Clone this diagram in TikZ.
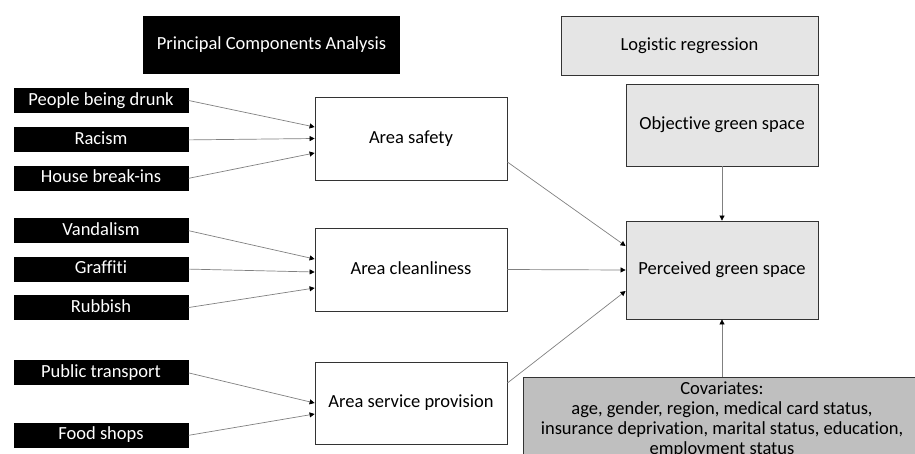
\documentclass[tikz,border=0pt]{standalone}
\usepackage{fontspec}
\setmainfont[Ligatures=NoCommon]{Carlito}
\usetikzlibrary{arrows.meta,positioning}

\begin{document}
\begin{tikzpicture}[x=1pt,y=-1pt,
  font=\fontsize{18.5}{20}\selectfont,
  item/.style={fill=black,text=white,minimum width=175pt,minimum height=25pt,
    text height=12.5pt,text depth=3.5pt,inner sep=0pt},
  factor/.style={draw=black!80,line width=0.8pt,fill=white,minimum width=192pt,
    minimum height=83pt,text height=12.5pt,text depth=3.5pt},
  model/.style={draw=black!80,line width=0.8pt,fill=black!10,minimum width=192pt,
    text height=12.5pt,text depth=3.5pt},
  link/.style={draw=black!50,line width=0.7pt,-{Triangle[length=5pt,width=5pt,black]}}]
  \clip (0,0) rectangle (915,453);

  % Headings
  \node[fill=black,text=white,minimum width=257pt,minimum height=58pt] (pca) at (271.5,45) {Principal Components Analysis};
  \node[model,minimum width=257pt,minimum height=59pt] (logit) at (689.5,45.5) {Logistic regression};

  % Neighbourhood items
  \node[item] (drunk) at (101,100.5) {People being drunk};
  \node[item] (racism) [below=14pt of drunk] {Racism};
  \node[item] (breakin) [below=13pt of racism] {House break-ins};
  \node[item] (vandal) [below=27pt of breakin] {Vandalism};
  \node[item] (graffiti) [below=13pt of vandal] {Graffiti};
  \node[item] (rubbish) [below=13pt of graffiti] {Rubbish};
  \node[item] (transport) [below=40pt of rubbish] {Public transport};
  \node[item] (shops) [below=37pt of transport] {Food shops};

  % Components
  \node[factor] (safety) at (411,138.5) {Area safety};
  \node[factor] (clean) at (411,269.5) {Area cleanliness};
  \node[factor,minimum height=82pt] (service) at (411,403) {Area service provision};

  % Outcome and covariates
  \node[model,minimum height=82pt] (objective) at (722,125) {Objective green space};
  \node[model,minimum height=98pt] (perceived) at (722,270) {Perceived green space};
  \node[draw=black!80,line width=0.8pt,fill=black!25,minimum width=398pt,minimum height=100pt,
    inner xsep=2pt,inner ysep=4.5pt,anchor=north,align=center,text depth=60pt] (covar) at (722,377)
    {Covariates:\\age, gender, region, medical card status,\\insurance deprivation, marital status, education,\\employment status};

  % Items to components
  \draw[link] (drunk.east) -- ([yshift=11.5pt]safety.west);
  \draw[link] (racism.east) -- (safety.west);
  \draw[link] (breakin.east) -- ([yshift=-14.5pt]safety.west);
  \draw[link] (vandal.east) -- ([yshift=10.5pt]clean.west);
  \draw[link] (graffiti.east) -- ([yshift=-2.5pt]clean.west);
  \draw[link] (rubbish.east) -- ([yshift=-18.5pt]clean.west);
  \draw[link] (transport.east) -- (service.west);
  \draw[link] (shops.east) -- ([yshift=-11pt]service.west);

  % Components to outcome
  \draw[link] ([yshift=-23.5pt]safety.east) -- ([yshift=24pt]perceived.west);
  \draw[link] (clean.east) -- (perceived.west);
  \draw[link] ([yshift=20pt]service.east) -- ([yshift=-21pt]perceived.west);
  \draw[link] (objective) -- (perceived);
  \draw[link] (covar.north) -- (perceived.south);
\end{tikzpicture}
\end{document}
